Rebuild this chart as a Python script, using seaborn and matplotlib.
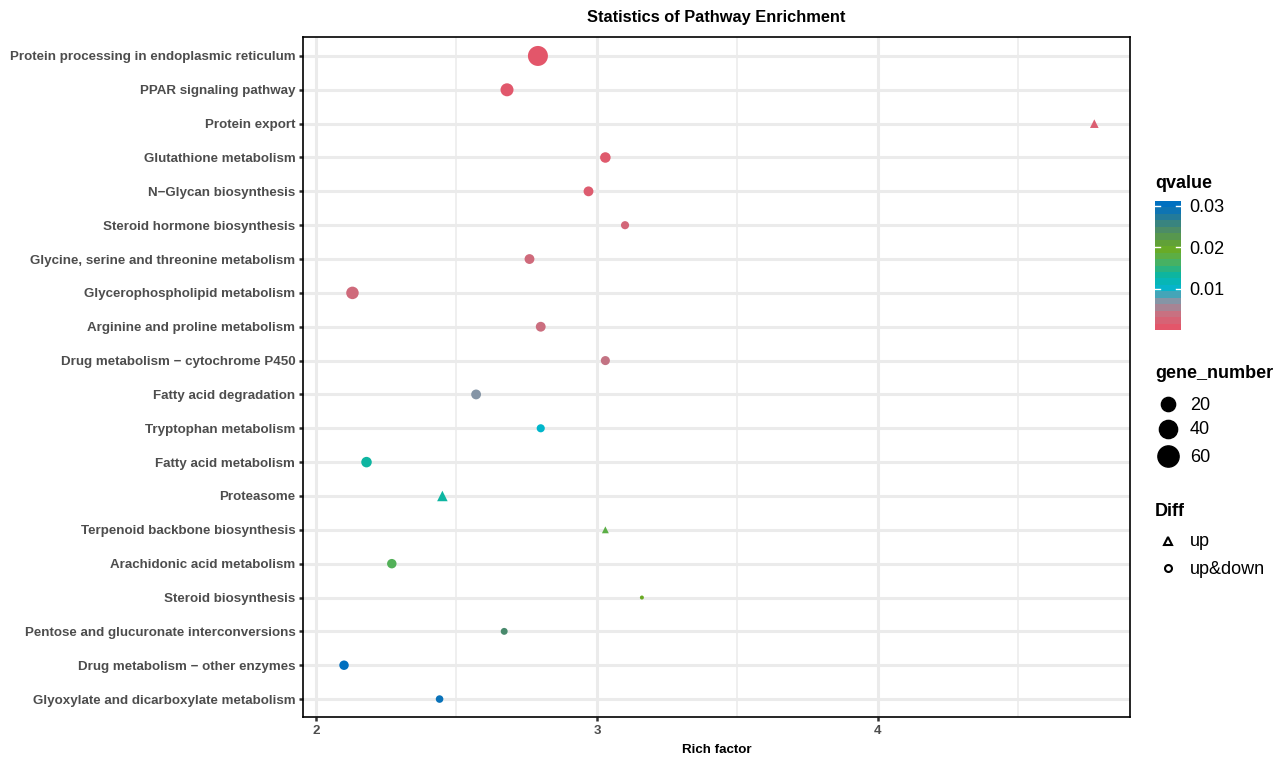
import numpy as np
import pandas as pd
import matplotlib
matplotlib.use("Agg")
import matplotlib.pyplot as plt
import matplotlib.colors as mcolors
import seaborn as sns

plt.rcParams["font.family"] = ["Liberation Sans", "DejaVu Sans"]

# data
pathways = [
    "Protein processing in endoplasmic reticulum",
    "PPAR signaling pathway",
    "Protein export",
    "Glutathione metabolism",
    "N\u2212Glycan biosynthesis",
    "Steroid hormone biosynthesis",
    "Glycine, serine and threonine metabolism",
    "Glycerophospholipid metabolism",
    "Arginine and proline metabolism",
    "Drug metabolism \u2212 cytochrome P450",
    "Fatty acid degradation",
    "Tryptophan metabolism",
    "Fatty acid metabolism",
    "Proteasome",
    "Terpenoid backbone biosynthesis",
    "Arachidonic acid metabolism",
    "Steroid biosynthesis",
    "Pentose and glucuronate interconversions",
    "Drug metabolism \u2212 other enzymes",
    "Glyoxylate and dicarboxylate metabolism",
]
rich_factor = [2.79, 2.68, 4.77, 3.03, 2.97, 3.10, 2.76, 2.13, 2.80, 3.03,
               2.57, 2.80, 2.18, 2.45, 3.03, 2.27, 3.16, 2.67, 2.10, 2.44]
qvalue = [0.0001, 0.0003, 0.0010, 0.0005, 0.0008, 0.0020, 0.0025, 0.0025, 0.0030, 0.0035,
          0.0065, 0.0100, 0.0130, 0.0130, 0.0180, 0.0170, 0.0200, 0.0250, 0.0310, 0.0300]
gene_number = [62, 21, 7, 12, 10, 6, 10, 19, 10, 8,
               10, 6, 12, 12, 4, 9, 2, 4, 9, 5]
diff = ["up&down", "up&down", "up", "up&down", "up&down", "up&down", "up&down", "up&down",
        "up&down", "up&down", "up&down", "up&down", "up&down", "up", "up", "up&down",
        "up&down", "up&down", "up&down", "up&down"]

size_breaks = [20, 40, 60]
q_breaks = [0.01, 0.02, 0.03]

df = pd.DataFrame({"Pathway": pathways, "Rich factor": rich_factor, "qvalue": qvalue,
                   "gene_number": gene_number, "Diff": diff})

# colour scale (red -> grey -> cyan -> green -> blue)
q_min, q_max = 0.0, 0.0312
cmap = mcolors.LinearSegmentedColormap.from_list("qv", [
    (0.0, "#E3566A"), (0.1, "#C97080"), (0.2, "#8E93A3"), (0.32, "#00B6CC"),
    (0.43, "#10B59A"), (0.55, "#55B055"), (0.64, "#6AAA22"), (0.8, "#4A8A6A"),
    (0.96, "#0A72B8"), (1.0, "#0070C0")])
norm = mcolors.Normalize(q_min, q_max)
df["colour"] = [mcolors.to_hex(cmap(norm(q))) for q in df["qvalue"]]

# ggplot-like area scale: diameter grows with sqrt of rescaled value
g_min, g_max = 2, 62
d_min, d_max = 4.0, 20.0  # px


def diam(v):
    return d_min + (d_max - d_min) * np.sqrt((v - g_min) / (g_max - g_min))


size_map = {v: (diam(v) * 0.72) ** 2 for v in sorted(set(gene_number))}

fig = plt.figure(figsize=(12.84, 7.58), dpi=100)
ax = fig.add_axes([303 / 1284, 1 - 717 / 758, 827 / 1284, 680 / 758])

ax.set_axisbelow(True)
sns.scatterplot(data=df, x="Rich factor", y="Pathway", hue="Pathway",
                palette=dict(zip(df["Pathway"], df["colour"])),
                size="gene_number", sizes=size_map, style="Diff",
                markers={"up": "^", "up&down": "o"}, linewidth=0,
                legend=False, ax=ax, zorder=3)

ax.set_xlim(1.954, 4.897)
ax.set_ylim(len(pathways) - 1 + 0.53, -0.56)
ax.set_xticks([2, 3, 4])
ax.set_xticks([2.5, 3.5, 4.5], minor=True)
ax.grid(True, which="major", color="#EBEBEB", linewidth=2.2)
ax.grid(True, which="minor", axis="x", color="#EBEBEB", linewidth=1.1)
ax.tick_params(axis="both", which="major", length=3, width=1.8, color="#333333",
               labelsize=9.6, labelcolor="#4D4D4D", pad=2.5)
ax.tick_params(axis="x", which="minor", length=0)
for lab in ax.get_xticklabels() + ax.get_yticklabels():
    lab.set_fontweight("bold")
for sp in ax.spines.values():
    sp.set_color("black")
    sp.set_linewidth(1.2)

ax.set_xlabel("Rich factor", fontsize=9.6, fontweight="bold", labelpad=5)
ax.set_ylabel("")
ax.set_title("Statistics of Pathway Enrichment", fontsize=11.8, fontweight="bold", pad=11)

# legends drawn on an overlay in pixel coordinates
lax = fig.add_axes([0, 0, 1, 1], facecolor="none")
lax.set_xlim(0, 1284)
lax.set_ylim(758, 0)
lax.axis("off")

fs = 13
lax.text(1155, 183, "qvalue", fontsize=fs, fontweight="bold", va="center")
cax = fig.add_axes([1155 / 1284, 1 - 330 / 758, 26 / 1284, 129 / 758])
binned = mcolors.ListedColormap([cmap(x) for x in np.linspace(0, 1, 20)])
cb = fig.colorbar(plt.cm.ScalarMappable(norm=norm, cmap=binned), cax=cax, ticks=q_breaks)
cb.outline.set_visible(False)
cb.ax.set_yticklabels([f"{t:.2f}" for t in q_breaks])
cb.ax.tick_params(length=0, labelsize=fs, pad=6)
for t in q_breaks:
    cax.plot([0, 0.2], [t, t], color="white", lw=1, transform=cax.get_yaxis_transform())
    cax.plot([0.8, 1], [t, t], color="white", lw=1, transform=cax.get_yaxis_transform())

lax.text(1155, 374, "gene_number", fontsize=fs, fontweight="bold", va="center")
for v, yy in zip(size_breaks, [404, 429, 456]):
    lax.plot(1168, yy, marker="o", color="black", markersize=(diam(v) + 1.5) * 0.72,
             linestyle="")
    lax.text(1190, yy + 1, str(v), fontsize=fs, va="center")

lax.text(1155, 511, "Diff", fontsize=fs, fontweight="bold", va="center")
lax.plot(1168, 541, marker="^", markerfacecolor="none", markeredgecolor="black",
         markeredgewidth=1.5, markersize=5.5, linestyle="")
lax.plot(1168, 568, marker="o", markerfacecolor="none", markeredgecolor="black",
         markeredgewidth=1.5, markersize=5, linestyle="")
lax.text(1190, 542, "up", fontsize=fs, va="center")
lax.text(1190, 569, "up&down", fontsize=fs, va="center")

fig.savefig("out.png", dpi=100)
